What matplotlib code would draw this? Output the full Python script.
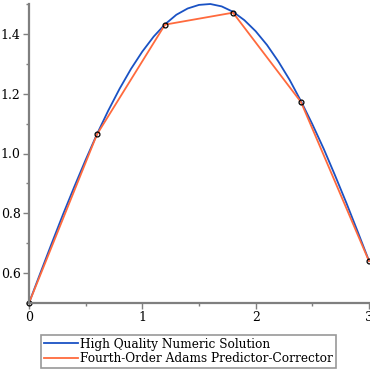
import numpy as np
import matplotlib
matplotlib.use("Agg")
from matplotlib import pyplot as plt
from matplotlib.ticker import MultipleLocator

#############################################################
# Data
#############################################################
xExact = [0.0, 0.1, 0.2, 0.3, 0.4, 0.5, 0.6, 0.7, 0.8, 0.9, 1.0,
          1.1, 1.2, 1.3, 1.4, 1.5, 1.6, 1.7, 1.8, 1.9, 2.0,
          2.1, 2.2, 2.3, 2.4, 2.5, 2.6, 2.7, 2.8, 2.9, 3.0]
yExact = [0.500, 0.600, 0.699, 0.796, 0.889, 0.979, 1.065, 1.144, 1.217, 1.283, 1.341,
          1.391, 1.432, 1.464, 1.485, 1.497, 1.500, 1.492, 1.474, 1.446, 1.409,
          1.363, 1.308, 1.246, 1.175, 1.098, 1.016, 0.927, 0.835, 0.739, 0.641]

xAdams = [0.0, 0.6, 1.2, 1.8, 2.4, 3.0]
yAdams = [0.500, 1.064, 1.431, 1.471, 1.172, 0.640]

labels = ["High Quality Numeric Solution", "Fourth-Order Adams Predictor-Corrector"]

BLUE = "#1a52c4"
ORANGE = "#ff6a3d"
GREY = "#7f7f7f"

#############################################################
# Plot
#############################################################
plt.rcParams["font.family"] = "DejaVu Serif"

fig = plt.figure(figsize=(3.7, 3.7), dpi=100)
ax = fig.add_axes([29/370, 67/370, 340/370, 299/370])

ax.plot(xExact, yExact, color=BLUE, lw=1.3, label=labels[0], clip_on=False)
ax.plot(xAdams, yAdams, color=ORANGE, lw=1.3, label=labels[1], clip_on=False)
ax.plot(xAdams, yAdams, "o", ms=3.5, mfc="none", mec="black", mew=0.9, clip_on=False)

ax.set_xlim(0, 3)
ax.set_ylim(0.5, 1.5)

ax.xaxis.set_major_locator(MultipleLocator(1))
ax.xaxis.set_minor_locator(MultipleLocator(0.5))
ax.yaxis.set_minor_locator(MultipleLocator(0.1))
ax.set_yticks([0.6, 0.8, 1.0, 1.2, 1.4])
ax.set_yticklabels(["0.6", "0.8", "1.0", "1.2", "1.4"])

for s in ["top", "right"]:
    ax.spines[s].set_visible(False)
for s in ["left", "bottom"]:
    ax.spines[s].set_color(GREY)
    ax.spines[s].set_linewidth(1.6)

ax.tick_params(which="major", direction="out", length=4, width=1, color=GREY,
               labelsize=9, pad=2)
ax.tick_params(which="minor", direction="out", length=2, width=1, color=GREY)

leg = fig.legend(loc="lower left", bbox_to_anchor=(41/370, 2/370),
                 fontsize=8.7, frameon=True, fancybox=False, handlelength=2.8,
                 handletextpad=0.15, borderpad=0.25, labelspacing=0.12,
                 borderaxespad=0)
leg.get_frame().set_edgecolor(GREY)
leg.get_frame().set_linewidth(1.2)

fig.savefig("out.png", dpi=100)
